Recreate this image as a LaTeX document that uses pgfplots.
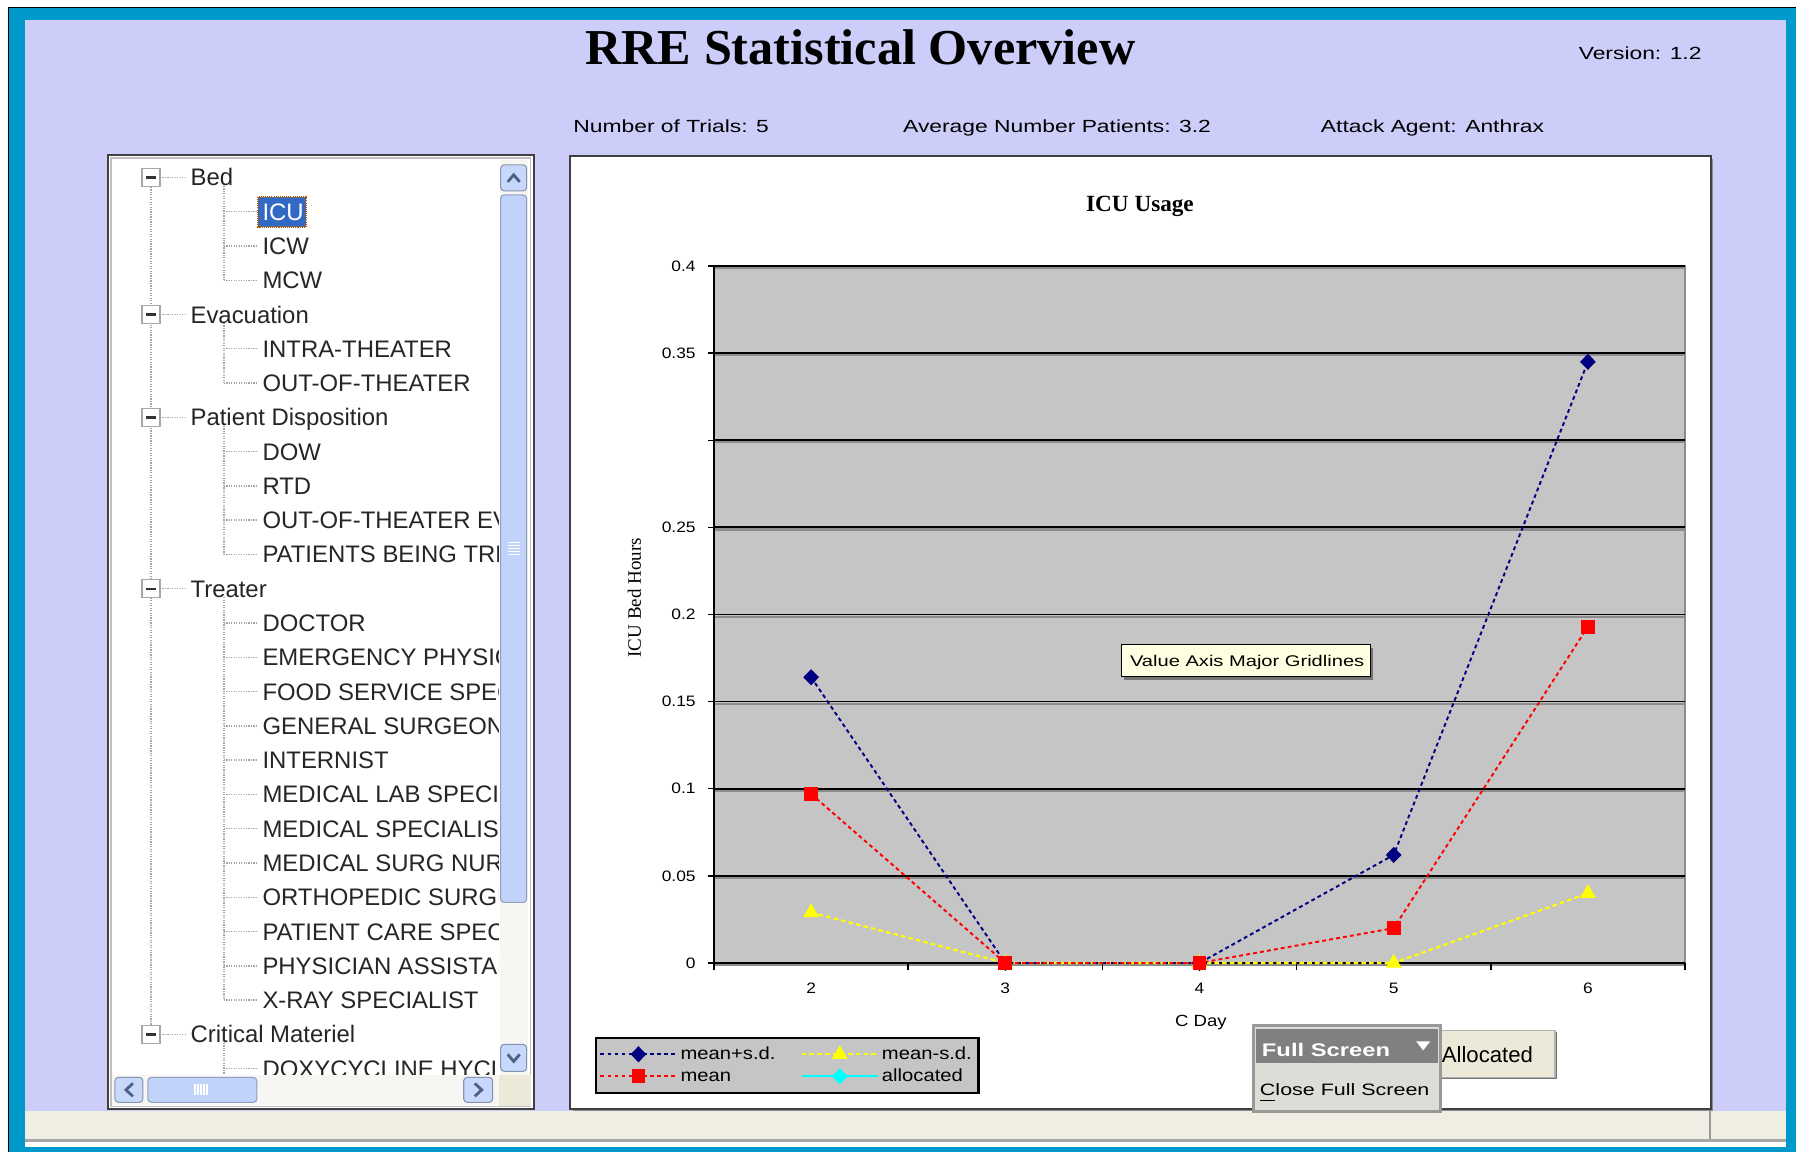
\documentclass[border=0pt]{standalone}
\usepackage{pgfplots}
\pgfplotsset{compat=1.18}
\usepackage{fontspec}
\setmainfont{Liberation Sans}
\newfontfamily\hdr[FakeStretch=1.3]{Liberation Sans}
\newfontfamily\chf[FakeStretch=1.15]{Liberation Sans}
\newfontfamily\srf{Liberation Serif}
\definecolor{frameblue}{RGB}{0,153,204}
\definecolor{lav}{RGB}{205,205,250}
\definecolor{beige}{RGB}{240,238,226}
\definecolor{btn}{RGB}{236,233,216}
\definecolor{plotgray}{RGB}{197,197,197}
\definecolor{navy}{RGB}{0,0,128}
\definecolor{pred}{RGB}{255,0,0}
\definecolor{pyellow}{RGB}{255,255,0}
\definecolor{pcyan}{RGB}{0,255,255}
\definecolor{selblue}{RGB}{49,106,197}
\definecolor{sbthumb}{RGB}{193,211,251}
\definecolor{sbbtn}{RGB}{200,216,252}
\definecolor{sbarrow}{RGB}{77,97,133}
\definecolor{sbtrack}{RGB}{246,246,243}
\definecolor{tipyellow}{RGB}{255,255,225}
\definecolor{popgray}{RGB}{128,128,128}
\definecolor{poplight}{RGB}{222,220,214}
\definecolor{treeline}{RGB}{165,165,165}
\begin{document}
\begin{tikzpicture}
\useasboundingbox (0,0) rectangle (17.97,-11.53);
\begin{scope}[x=0.01cm,y=-0.01cm]
% window frame
\fill[white] (0,0) rectangle (1797,1153);
\fill[frameblue] (9,8) rectangle (1797,1153);
\draw[black, line width=0.5pt] (9,7.5) -- (1797,7.5);
\draw[black, line width=0.5pt] (8.5,7) -- (8.5,1153);
\fill[lav] (25,20) rectangle (1787,1112);
\fill[beige] (25,1112) rectangle (1787,1143);
\fill[black!35] (25,1140) rectangle (1787,1143);
\fill[white] (25,1143) rectangle (1787,1148);
\draw[black!40, line width=0.6pt] (1711,1112) -- (1711,1140);
% header
\node[anchor=base west, inner sep=0, font=\srf\bfseries\fontsize{14.3}{16}\selectfont] at (585,65) {RRE Statistical Overview};
\node[anchor=base west, inner sep=0, font=\hdr\fontsize{5}{6}\selectfont] at (1579,60) {Version: 1.2};
\node[anchor=base west, inner sep=0, font=\hdr\fontsize{5}{6}\selectfont] at (573,133) {Number of Trials: 5};
\node[anchor=base west, inner sep=0, font=\hdr\fontsize{5}{6}\selectfont] at (903,133) {Average Number Patients: 3.2};
\node[anchor=base west, inner sep=0, font=\hdr\fontsize{5}{6}\selectfont] at (1321,133) {Attack Agent: Anthrax};
% tree panel
\fill[white] (108,155) rectangle (534,1110);
\draw[black!75, line width=0.6pt] (108,155) rectangle (534,1110);
\draw[black!25, line width=0.4pt] (111,158) rectangle (531,1107);
\begin{scope}
\clip (112,159) rectangle (499,1076);
\draw[treeline, dash pattern=on 0.35pt off 0.35pt, line width=0.4pt] (151,187) -- (151,{186+25*34.3-8.5-9});
\foreach \p/\b in {0/3, 4/6, 7/11, 12/24, 25/27}
  \draw[treeline, dash pattern=on 0.35pt off 0.35pt, line width=0.4pt] (224,{186+\p*34.3}) -- (224,{186+\b*34.3-8.5});
\foreach \i in {1,2,3,5,6,8,9,10,11,13,14,...,24,26}
  \draw[treeline, dash pattern=on 0.35pt off 0.35pt, line width=0.4pt] (224,{186+\i*34.3-8.5}) -- (258,{186+\i*34.3-8.5});
\foreach \i/\t in {0/Bed,4/Evacuation,7/Patient Disposition,12/Treater,25/Critical Materiel}{
  \draw[treeline, dash pattern=on 0.35pt off 0.35pt, line width=0.4pt] (160,{186+\i*34.3-8.5}) -- (187,{186+\i*34.3-8.5});
  \filldraw[fill=white, draw=black!35, line width=0.4pt] (142,{186+\i*34.3-17.5}) rectangle (160,{186+\i*34.3+0.5});
  \draw[black!80, line width=0.7pt] (146,{186+\i*34.3-8.5}) -- (156,{186+\i*34.3-8.5});
  \node[anchor=base west, inner sep=0, font=\fontsize{6.8}{8}\selectfont, text=black!85] at (190,{186+\i*34.3}) {\t};
}
\fill[selblue] (258,197) rectangle (306,227);
\draw[orange!70!black, dash pattern=on 0.3pt off 0.3pt, line width=0.4pt] (258,197) rectangle (306,227);
\node[anchor=base west, inner sep=0, font=\fontsize{6.8}{8}\selectfont, text=white] at (262,{186+34.3}) {ICU};
\foreach \i/\t in {2/ICW,3/MCW,5/INTRA-THEATER,6/OUT-OF-THEATER,8/DOW,9/RTD,10/OUT-OF-THEATER EVAC,11/PATIENTS BEING TREATED,13/DOCTOR,14/EMERGENCY PHYSICIAN,15/FOOD SERVICE SPECIALIST,16/GENERAL SURGEON,17/INTERNIST,18/MEDICAL LAB SPECIALIST,19/MEDICAL SPECIALIST,20/MEDICAL SURG NURSE,21/ORTHOPEDIC SURGEON,22/PATIENT CARE SPECIALIST,23/PHYSICIAN ASSISTANT,24/X-RAY SPECIALIST,26/DOXYCYCLINE HYCLATE}
  \node[anchor=base west, inner sep=0, font=\fontsize{6.8}{8}\selectfont, text=black!85] at (262,{186+\i*34.3}) {\t};
\end{scope}
% vertical scrollbar
\fill[sbtrack] (500,160) rectangle (528,1076);
\filldraw[fill=sbbtn, draw=sbthumb!70!black, line width=0.3pt, rounded corners=1pt] (501,165) rectangle (527,191);
\draw[sbarrow, line width=0.8pt] (508,182) -- (514,175) -- (520,182);
\filldraw[fill=sbthumb, draw=sbthumb!75!black, line width=0.3pt, rounded corners=1pt] (501,195) rectangle (527,903);
\foreach \yy in {543,546,549,552,555} \draw[white, line width=0.4pt] (508,\yy) -- (520,\yy);
\filldraw[fill=sbbtn, draw=sbthumb!70!black, line width=0.3pt, rounded corners=1pt] (501,1045) rectangle (527,1072);
\draw[sbarrow, line width=0.8pt] (508,1055) -- (514,1062) -- (520,1055);
% horizontal scrollbar
\fill[sbtrack] (112,1076) rectangle (499,1106);
\fill[btn] (499,1076) rectangle (531,1107);
\filldraw[fill=sbbtn, draw=sbthumb!70!black, line width=0.3pt, rounded corners=1pt] (115,1078) rectangle (143,1103);
\draw[sbarrow, line width=0.8pt] (133,1084) -- (126,1090.5) -- (133,1097);
\filldraw[fill=sbthumb, draw=sbthumb!75!black, line width=0.3pt, rounded corners=1pt] (148,1078) rectangle (257,1103);
\foreach \xx in {195,198,201,204,207} \draw[white, line width=0.4pt] (\xx,1085) -- (\xx,1096);
\filldraw[fill=sbbtn, draw=sbthumb!70!black, line width=0.3pt, rounded corners=1pt] (464,1078) rectangle (493,1103);
\draw[sbarrow, line width=0.8pt] (475,1084) -- (482,1090.5) -- (475,1097);
% chart panel
\fill[black!45] (573,159) rectangle (1714,1112);
\fill[white] (570,156) rectangle (1712,1110);
\draw[black!75, line width=0.6pt] (570,156) rectangle (1712,1110);
\end{scope}

\begin{axis}[
  at={(7.14cm,-9.63cm)}, anchor=south west,
  width=9.71cm, height=6.97cm, scale only axis,
  xmin=1.5, xmax=6.5, ymin=0, ymax=0.4,
  axis x line*=bottom, axis y line*=left,
  axis line style={black, line width=0.5pt, -},
  axis background/.style={fill=plotgray, draw=black!45, line width=0.6pt},
  xtick={2,3,4,5,6}, xticklabels={2,3,4,5,6},
  minor xtick={1.5,2.5,3.5,4.5,5.5,6.5},
  major x tick style={draw=none},
  minor x tick style={black, line width=0.4pt},
  ytick={0,0.05,0.1,0.15,0.2,0.25,0.3,0.35,0.4},
  yticklabels={0,0.05,0.1,0.15,0.2,0.25,{},0.35,0.4},
  ytick style={black, line width=0.4pt},
  tick align=outside,
  major tick length=0.06cm, minor tick length=0.07cm,
  ymajorgrids,
  major grid style={black, line width=0.5pt, postaction={draw=black!45, line width=0.6pt, transform canvas={yshift=-0.6pt}}},
  tick label style={font=\chf\fontsize{4.3}{5}\selectfont},
  xticklabel style={yshift=-0.02cm},
  title={ICU Usage},
  every axis title/.style={font=\srf\bfseries\fontsize{6.6}{8}\selectfont, at={(axis description cs:0.4387,1.085)}, anchor=center},
  xlabel={C Day},
  xlabel style={font=\chf\fontsize{4.6}{5.5}\selectfont, at={(axis description cs:0.5015,-0.085)}, anchor=center},
  ylabel={ICU Bed Hours},
  ylabel style={font=\srf\fontsize{5.4}{6}\selectfont, at={(axis description cs:-0.082,0.524)}, anchor=center},
  legend columns=2,
  legend cell align=left,
  legend style={at={(axis description cs:-0.1226,-0.106)}, anchor=north west,
    fill=plotgray, draw=black, line width=0.6pt,
    font=\chf\fontsize{5}{6}\selectfont,
    inner xsep=1pt, inner ysep=1.5pt,
    /tikz/every even column/.append style={column sep=0.22cm},
    nodes={inner sep=0.9pt, text height=3.6pt, text depth=0.9pt}},
  legend image code/.code={\draw[mark repeat=2,mark phase=2,#1] plot coordinates {(0cm,0cm) (0.38cm,0cm) (0.76cm,0cm)};},
  clip=false,
]
\addplot[navy, line width=0.55pt, dash pattern=on 1.1pt off 0.9pt, mark=diamond*, mark size=1.9pt, mark options={solid, xscale=1.3}]
  coordinates {(2,0.164) (3,0) (4,0) (5,0.062) (6,0.345)};
\addlegendentry{mean+s.d.}
\addplot[pyellow, line width=0.6pt, dash pattern=on 1.3pt off 0.9pt, mark=triangle*, mark size=2pt, mark options={solid}]
  coordinates {(2,0.029) (3,0) (4,0) (5,0) (6,0.040)};
\addlegendentry{mean-s.d.}
\addplot[pred, line width=0.55pt, dash pattern=on 1.1pt off 0.9pt, mark=square*, mark size=1.7pt, mark options={solid}]
  coordinates {(2,0.097) (3,0) (4,0) (5,0.020) (6,0.193)};
\addlegendentry{mean}
\addlegendimage{pcyan, line width=0.55pt, solid, mark=diamond*, mark size=1.9pt, mark options={xscale=1.3}}
\addlegendentry{allocated}
\end{axis}

\begin{scope}[x=0.01cm,y=-0.01cm]
% tooltip
\fill[black!55] (1125,648) rectangle (1374,680);
\filldraw[fill=tipyellow, draw=black, line width=0.4pt] (1122,645) rectangle (1371,677);
\node[anchor=base west, inner sep=0, font=\hdr\fontsize{4.4}{5}\selectfont] at (1130,667) {Value Axis Major Gridlines};
% Allocated button
\fill[black!55] (1441,1033) rectangle (1558,1080);
\filldraw[fill=btn, draw=black!30, line width=0.4pt] (1439,1031) rectangle (1556,1078);
\node[anchor=base west, inner sep=0, font=\fontsize{6.3}{7}\selectfont] at (1442,1063) {Allocated};
% Full Screen popup
\fill[black!40] (1253,1025) rectangle (1443,1114);
\fill[poplight] (1256,1028) rectangle (1440,1111);
\fill[popgray] (1257,1030) rectangle (1439,1064);
\node[anchor=base west, inner sep=0, font=\hdr\bfseries\fontsize{5.2}{6}\selectfont, text=white] at (1262,1057) {Full Screen};
\fill[white] (1417,1042) -- (1431,1042) -- (1424,1051) -- cycle;
\node[anchor=base west, inner sep=0, font=\hdr\fontsize{4.7}{6}\selectfont] at (1260,1096) {\underline{C}lose Full Screen};
\end{scope}
\end{tikzpicture}
\end{document}
